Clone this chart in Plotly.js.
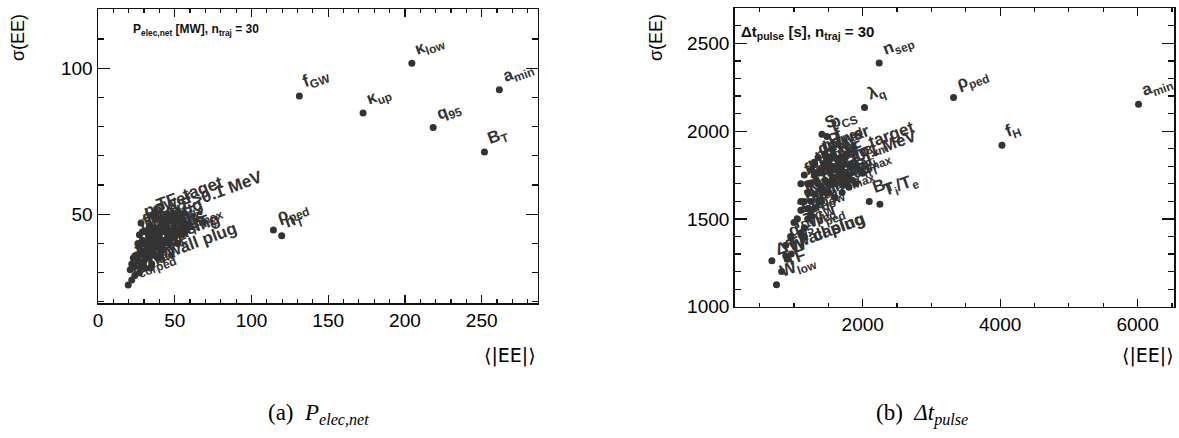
<!DOCTYPE html>
<html>
<head>
<meta charset="utf-8">
<script src="https://cdn.plot.ly/plotly-3.0.1.min.js"></script>
<style>html,body{margin:0;padding:0;background:#fff;}#chart{width:1179px;height:438px;}</style>
</head>
<body>
<div id="chart"></div>
<script>
// ---- Panel (a): P_elec,net ----
const labelsA = [
  "f<sub>GW</sub>", "κ<sub>up</sub>", "κ<sub>low</sub>", "q<sub>95</sub>", "a<sub>min</sub>", "B<sub>T</sub>",
  "ρ<sub>ped</sub>", "n<sub>T</sub>",
  "f<sub>corped</sub>", "ΔT", "W<sub>low</sub>", "TF", "η wall plug", "T<sub>ped</sub>", "n<sub>ped</sub>",
  "TF casing", "T<sub>i</sub>/T<sub>e</sub>", "p<sub>CS</sub>", "S<sub>CS</sub>", "λ<sub>q</sub>",
  "n<sub>sep</sub>", "f<sub>H</sub>", "P<sub>max</sub>", "f<sub>W</sub>", "Z<sub>eff</sub>", "β<sub>N</sub>",
  "δ", "R<sub>0</sub>", "f<sub>rad</sub>", "τ<sub>E</sub>", "j<sub>max</sub>", "σ<sub>TF</sub>",
  "f<sub>Ar</sub>", "σ<sub>CS</sub>", "η<sub>CD</sub>", "P<sub>aux</sub>", "f<sub>BS</sub>", "B<sub>max</sub>",
  "f<sub>α</sub>", "α<sub>n</sub>", "α<sub>T</sub>", "l<sub>i</sub>", "power", "φ E>0.1 MeV", "TF, taget",
  "plug",
  "f<sub>DT</sub>", "c<sub>DD</sub>", "P<sub>sep</sub>/R", "f<sub>nw</sub>", "t<sub>dwell</sub>", "η<sub>th</sub>",
  "d<sub>FW</sub>", "f<sub>cool</sub>", "T<sub>sep</sub>", "f<sub>TF</sub>", "v<sub>st</sub>", "γ",
  "m<sub>i</sub>", "f<sub>p</sub>", "H<sub>98</sub>", "f<sub>CS</sub>", "E<sub>max</sub>", "σ<sub>vm</sub>",
  "J<sub>crit</sub>", "ε<sub>max</sub>"
];
const xA = [
  131.2, 172.7, 204.5, 218.4, 261.5, 251.8,
  114.3, 119.7,
  19.7, 22, 24, 21, 34, 27, 23,
  28, 52, 30, 32, 29,
  33, 35, 31, 27, 36, 38,
  40, 34, 37, 42, 44, 39,
  46, 48, 50, 45, 52, 55,
  30, 35, 41, 26, 28, 42, 36,
  43,
  22, 24, 26, 28, 30, 32,
  34, 36, 38, 40, 42, 44,
  27, 25, 29, 31, 33, 37,
  39, 35
];
const yA = [
  90.5, 84.7, 101.7, 79.7, 92.6, 71.3,
  44.6, 42.6,
  25.8, 27.5, 29, 31, 31.6, 30, 35,
  36, 40, 34, 39, 41,
  42, 37, 44, 43, 41, 43,
  39, 46, 45, 44, 41, 35,
  40, 43, 42, 45, 44, 43,
  32, 33, 37, 40, 47, 47.5, 49.5,
  46,
  33, 32, 34, 32, 37, 35,
  40, 38, 40, 42, 40, 44,
  39, 36, 44, 40, 45, 42,
  44, 44
];

// ---- Panel (b): Δt_pulse ----
const labelsB = [
  "n<sub>sep</sub>", "λ<sub>q</sub>", "ρ<sub>ped</sub>", "f<sub>H</sub>", "a<sub>min</sub>",
  "B<sub>T</sub>", "T<sub>i</sub>/T<sub>e</sub>",
  "W<sub>low</sub>", "ΔT", "TF", "W", "wall plug", "W<sub>ped</sub>", "TF casing", "T<sub>ped</sub>",
  "S", "p<sub>CS</sub>", "power", "P<sub>max</sub>", "f<sub>W</sub>", "TF, target", "φ E>0.1 MeV",
  "q<sub>95</sub>", "f<sub>GW</sub>", "κ<sub>up</sub>", "κ<sub>low</sub>", "Z<sub>eff</sub>", "β<sub>N</sub>",
  "δ", "R<sub>0</sub>", "f<sub>rad</sub>", "τ<sub>E</sub>", "j<sub>max</sub>", "σ<sub>TF</sub>",
  "f<sub>Ar</sub>", "σ<sub>CS</sub>", "η<sub>CD</sub>", "P<sub>aux</sub>", "f<sub>BS</sub>", "B<sub>max</sub>",
  "f<sub>α</sub>", "α<sub>n</sub>", "α<sub>T</sub>", "l<sub>i</sub>", "plug", "S<sub>CS</sub>",
  "f<sub>DT</sub>", "c<sub>DD</sub>", "P<sub>sep</sub>/R", "f<sub>nw</sub>", "t<sub>dwell</sub>",
  "η<sub>th</sub>", "d<sub>FW</sub>", "f<sub>cool</sub>", "T<sub>sep</sub>", "f<sub>TF</sub>",
  "v<sub>st</sub>", "γ", "m<sub>i</sub>", "f<sub>p</sub>", "H<sub>98</sub>", "f<sub>CS</sub>",
  "E<sub>max</sub>", "σ<sub>vm</sub>", "J<sub>crit</sub>", "ε<sub>max</sub>", "f<sub>corped</sub>",
  "ψ", "k<sub>W</sub>", "P<sub>net</sub>", "f<sub>ped</sub>"
];
const xB = [
  2240, 2026, 3322, 4026, 6014,
  2095, 2250,
  745, 678, 820, 900, 960, 1150, 880, 1100,
  1406, 1479, 1350, 1450, 1550, 1650, 1323,
  880, 1150, 1200, 1250, 1000, 1300,
  1400, 1100, 1200, 1500, 1600, 1700,
  1800, 1250, 1300, 1400, 1500, 1600,
  1700, 1800, 1900, 2000, 1150, 1450,
  950, 1050, 1100, 1150, 1200,
  1250, 1300, 1350, 1400, 1450,
  1500, 1550, 1600, 1650, 1700,
  1750, 1850, 1900, 1300, 1250, 1100,
  1200, 1350, 1450, 1550
];
const yB = [
  2388, 2135, 2192, 1920, 2154,
  1599, 1584,
  1125, 1262, 1200, 1270, 1300, 1400, 1290, 1420,
  1983, 1969, 1850, 1870, 1850, 1820, 1722,
  1350, 1450, 1500, 1520, 1480, 1560,
  1600, 1600, 1650, 1650, 1700, 1720,
  1750, 1700, 1750, 1780, 1800, 1620,
  1650, 1680, 1700, 1760, 1750, 1720,
  1400, 1500, 1550, 1600, 1700,
  1780, 1820, 1700, 1680, 1650,
  1700, 1720, 1780, 1750, 1800,
  1700, 1720, 1800, 1640, 1600, 1700,
  1560, 1760, 1820, 1900
];

const W = 1179, H = 438;
const px = v => v / W;
const py = v => 1 - v / H;
const dark = '#333333';
const sans = 'Liberation Sans, Arial, Helvetica, sans-serif';

const traces = [
  {x: xA, y: yA, mode: 'markers', type: 'scatter', xaxis: 'x', yaxis: 'y',
   marker: {color: dark, size: 7}, hoverinfo: 'skip', cliponaxis: false},
  {x: xB, y: yB, mode: 'markers', type: 'scatter', xaxis: 'x2', yaxis: 'y2',
   marker: {color: dark, size: 7}, hoverinfo: 'skip', cliponaxis: false}
];

function axis(extra) {
  return Object.assign({
    showline: true, linecolor: '#111', linewidth: 1.5, mirror: 'allticks',
    ticks: 'inside', tickcolor: '#111', tickwidth: 1.2,
    showgrid: false, zeroline: false,
    tickfont: {family: sans, size: 19, color: '#000'},
    fixedrange: true
  }, extra);
}

const annotations = [];
function addLabels(labels, xs, ys, xr, yr) {
  labels.forEach((t, i) => {
    annotations.push({
      x: xs[i], y: ys[i], xref: xr, yref: yr, text: t, showarrow: false,
      xanchor: 'left', yanchor: 'bottom', textangle: -20, xshift: -2, yshift: -1,
      font: {family: sans, size: 17, color: dark, weight: 'bold'}
    });
  });
}
addLabels(labelsA, xA, yA, 'x', 'y');
addLabels(labelsB, xB, yB, 'x2', 'y2');

function paperText(text, x, y, opts) {
  annotations.push(Object.assign({
    x: px(x), y: py(y), xref: 'paper', yref: 'paper', text: text, showarrow: false,
    xanchor: 'center', yanchor: 'middle',
    font: {family: sans, size: 18, color: '#000'}
  }, opts));
}
// axis titles
paperText('σ(EE)', 18, 38, {textangle: -90});
paperText('σ(EE)', 656, 38, {textangle: -90});
paperText('⟨|EE|⟩', 538, 355, {xanchor: 'right', font: {family: 'DejaVu Sans, ' + sans, size: 19, color: '#000'}});
paperText('⟨|EE|⟩', 1176, 355, {xanchor: 'right', font: {family: 'DejaVu Sans, ' + sans, size: 19, color: '#000'}});
// inner titles
paperText('<b>P<sub>elec,net</sub> [MW], n<sub>traj</sub> = 30</b>', 131, 30,
  {xanchor: 'left', font: {family: sans, size: 12, color: '#111'}});
paperText('<b>Δt<sub>pulse</sub> [s], n<sub>traj</sub> = 30</b>', 739, 33,
  {xanchor: 'left', font: {family: sans, size: 15, color: '#111'}});
// captions
paperText('(a)  <i>P<sub>elec,net</sub></i>', 319, 414,
  {font: {family: 'Liberation Serif, Times New Roman, serif', size: 23, color: '#000'}});
paperText('(b)  <i>Δt<sub>pulse</sub></i>', 922, 414,
  {font: {family: 'Liberation Serif, Times New Roman, serif', size: 23, color: '#000'}});

const layout = {
  width: W, height: H, autosize: false,
  margin: {l: 0, r: 0, t: 0, b: 0},
  paper_bgcolor: '#fff', plot_bgcolor: '#fff',
  showlegend: false,
  xaxis: axis({domain: [px(98), px(537.7)], range: [0, 286.5], anchor: 'y',
    tickvals: [0, 50, 100, 150, 200, 250], ticklen: 8,
    minor: {dtick: 10, tick0: 0, ticklen: 4, ticks: 'inside', tickcolor: '#111'}}),
  yaxis: axis({domain: [py(303), py(9)], range: [19.6, 120.3], anchor: 'x',
    tickvals: [50, 100], ticklen: 12,
    minor: {dtick: 10, tick0: 0, ticklen: 6, ticks: 'inside', tickcolor: '#111'}}),
  xaxis2: axis({domain: [px(734.7), px(1174)], range: [137, 6530], anchor: 'y2',
    tickvals: [2000, 4000, 6000], ticklen: 8,
    minor: {dtick: 500, tick0: 0, ticklen: 4, ticks: 'inside', tickcolor: '#111'}}),
  yaxis2: axis({domain: [py(306.7), py(8.3)], range: [1000, 2700], anchor: 'x2',
    tickvals: [1000, 1500, 2000, 2500], ticklen: 12,
    minor: {dtick: 100, tick0: 0, ticklen: 6, ticks: 'inside', tickcolor: '#111'}}),
  annotations: annotations
};

Plotly.newPlot('chart', traces, layout, {staticPlot: true, displayModeBar: false});
</script>
</body>
</html>
